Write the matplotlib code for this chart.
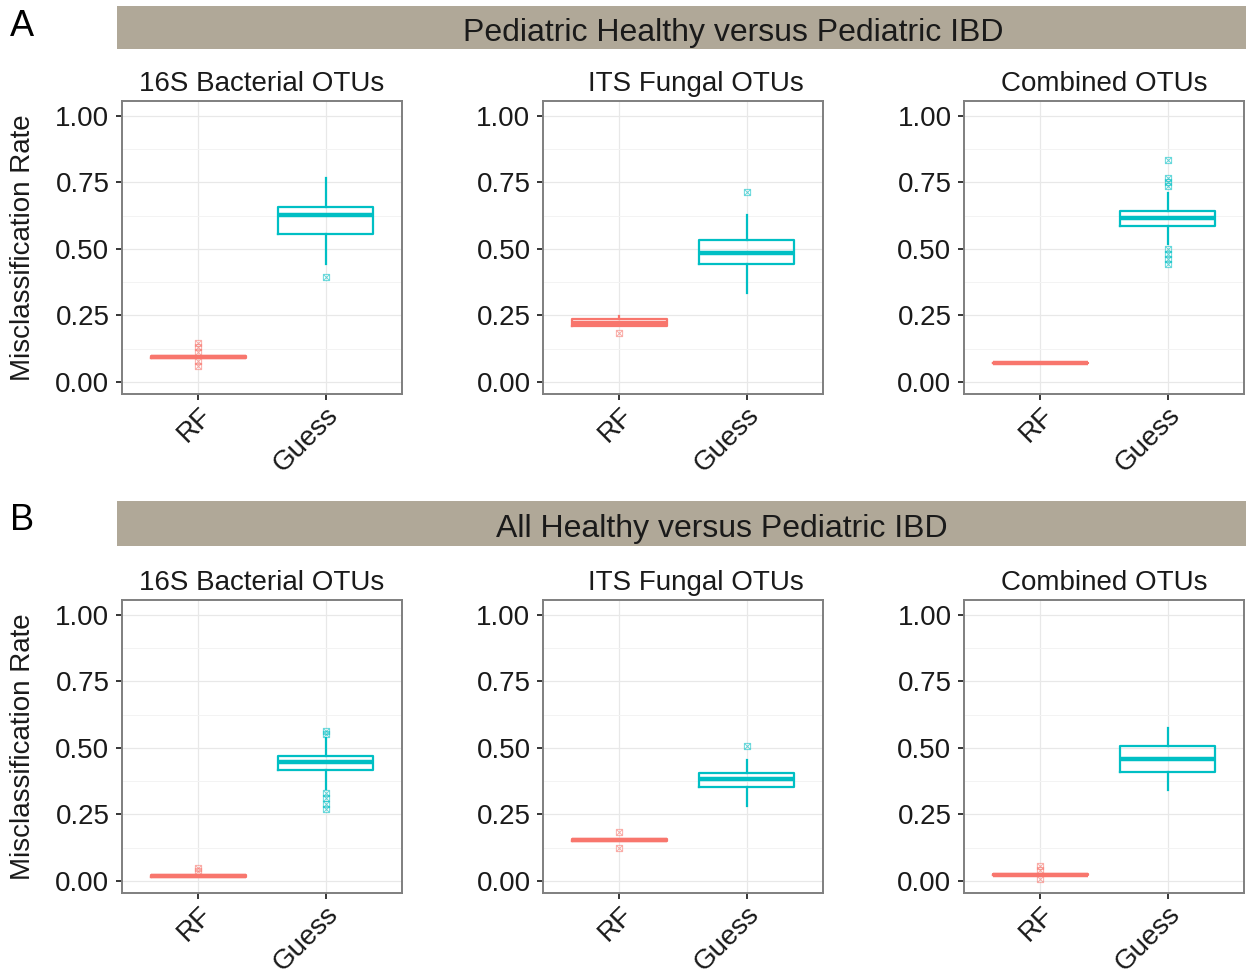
import matplotlib
matplotlib.use("Agg")
import matplotlib.pyplot as plt
from matplotlib.path import Path
from matplotlib.patches import Rectangle

plt.rcParams['font.family'] = ['Liberation Sans', 'DejaVu Sans']

# ---------------- data ----------------
methods = ["RF", "Guess"]
panel_titles = ["16S Bacterial OTUs", "ITS Fungal OTUs", "Combined OTUs"]
row_titles = ["Pediatric Healthy versus Pediatric IBD", "All Healthy versus Pediatric IBD"]
row_letters = ["A", "B"]
yticks = [0.00, 0.25, 0.50, 0.75, 1.00]
ytick_labels = ["0.00", "0.25", "0.50", "0.75", "1.00"]
ylabel = "Misclassification Rate"

# box stats: [whislo, q1, med, q3, whishi]
# Row A
A_16S_RF = [0.090, 0.090, 0.094, 0.097, 0.097]
A_16S_RF_out = [0.148, 0.130, 0.112, 0.078, 0.062]
A_16S_G = [0.442, 0.558, 0.627, 0.656, 0.765]
A_16S_G_out = [0.395]

A_ITS_RF = [0.210, 0.212, 0.222, 0.235, 0.247]
A_ITS_RF_out = [0.184]
A_ITS_G = [0.335, 0.445, 0.483, 0.533, 0.629]
A_ITS_G_out = [0.714]

A_COMB_RF = [0.071, 0.071, 0.071, 0.071, 0.071]
A_COMB_RF_out = []
A_COMB_G = [0.520, 0.588, 0.618, 0.642, 0.711]
A_COMB_G_out = [0.833, 0.768, 0.752, 0.738, 0.500, 0.480, 0.462, 0.445]

# Row B
B_16S_RF = [0.014, 0.014, 0.018, 0.022, 0.022]
B_16S_RF_out = [0.050, 0.038]
B_16S_G = [0.345, 0.418, 0.449, 0.468, 0.539]
B_16S_G_out = [0.565, 0.552, 0.332, 0.312, 0.290, 0.270]

B_ITS_RF = [0.152, 0.152, 0.155, 0.158, 0.158]
B_ITS_RF_out = [0.185, 0.125]
B_ITS_G = [0.283, 0.355, 0.383, 0.406, 0.453]
B_ITS_G_out = [0.506]

B_COMB_RF = [0.021, 0.021, 0.024, 0.027, 0.027]
B_COMB_RF_out = [0.055, 0.040, 0.008]
B_COMB_G = [0.343, 0.411, 0.460, 0.506, 0.576]
B_COMB_G_out = []

rows = [
    [(A_16S_RF, A_16S_RF_out, A_16S_G, A_16S_G_out),
     (A_ITS_RF, A_ITS_RF_out, A_ITS_G, A_ITS_G_out),
     (A_COMB_RF, A_COMB_RF_out, A_COMB_G, A_COMB_G_out)],
    [(B_16S_RF, B_16S_RF_out, B_16S_G, B_16S_G_out),
     (B_ITS_RF, B_ITS_RF_out, B_ITS_G, B_ITS_G_out),
     (B_COMB_RF, B_COMB_RF_out, B_COMB_G, B_COMB_G_out)],
]

colors = ["#F8766D", "#00BFC4"]
strip_color = "#B0A898"
frame_color = "#7F7F7F"

# square-with-x marker (ggplot shape 7)
verts = [(-1, -1), (1, -1), (1, 1), (-1, 1), (-1, -1),
         (-1, -1), (1, 1), (-1, 1), (1, -1)]
codes = [Path.MOVETO, Path.LINETO, Path.LINETO, Path.LINETO, Path.CLOSEPOLY,
         Path.MOVETO, Path.LINETO, Path.MOVETO, Path.LINETO]
sqx = Path(verts, codes)

W, H = 1246, 977
fig = plt.figure(figsize=(W / 100, H / 100), dpi=100)

ax_left = [122, 543, 964]
ax_w = 280
ax_top = [101, 600]
ax_h = 293
strip_y = [(6, 49), (501, 546)]
strip_text_x = [733, 722]
title_x = [0.5, 0.546, 0.5]


def mkstats(s, out, label):
    return dict(whislo=s[0], q1=s[1], med=s[2], q3=s[3], whishi=s[4],
                fliers=out, label=label)


for r in range(2):
    # strip
    y0, y1 = strip_y[r]
    fig.patches.append(Rectangle((117 / W, 1 - y1 / H), (W - 117) / W, (y1 - y0) / H,
                                 transform=fig.transFigure, facecolor=strip_color,
                                 edgecolor='none', zorder=0))
    fig.text(strip_text_x[r] / W, 1 - ((y0 + y1) / 2 + 5) / H, row_titles[r],
             ha='center', va='center', fontsize=23, color='#1a1a1a')
    fig.text(22 / W, 1 - (y0 + 20) / H, row_letters[r], ha='center', va='center',
             fontsize=26, color='black')

    for c in range(3):
        rf, rf_out, g, g_out = rows[r][c]
        ax = fig.add_axes([ax_left[c] / W, 1 - (ax_top[r] + ax_h) / H, ax_w / W, ax_h / H])
        ax.set_xlim(0.4, 2.6)
        ax.set_ylim(-0.045, 1.056)
        ax.set_axisbelow(True)
        ax.set_yticks(yticks)
        ax.set_yticklabels(ytick_labels)
        ax.set_yticks([0.125, 0.375, 0.625, 0.875], minor=True)
        ax.grid(True, which='major', color='#E8E8E8', lw=0.9)
        ax.grid(True, which='minor', axis='y', color='#F3F3F3', lw=0.7)
        for s in ax.spines.values():
            s.set_color(frame_color)
            s.set_linewidth(1.4)
        ax.tick_params(axis='both', which='major', length=4, width=1.1, color='black',
                       labelsize=20, labelcolor='#1a1a1a', pad=2)
        ax.tick_params(axis='y', which='major', pad=5)
        ax.tick_params(axis='both', which='minor', length=0)

        for i, (st, out) in enumerate([(rf, rf_out), (g, g_out)]):
            col = colors[i]
            ax.bxp([mkstats(st, out, methods[i])], positions=[i + 1], widths=0.75,
                   showfliers=True, manage_ticks=False,
                   boxprops=dict(color=col, lw=1.6),
                   whiskerprops=dict(color=col, lw=1.6),
                   capprops=dict(lw=0),
                   medianprops=dict(color=col, lw=3.2, solid_capstyle='butt'),
                   flierprops=dict(marker=sqx, markersize=4.5, markerfacecolor='none',
                                   markeredgecolor=col, markeredgewidth=0.7,
                                   alpha=0.6, linestyle='none'))
        ax.set_xticks([1, 2])
        ax.set_xticklabels(methods, rotation=45, ha='right', rotation_mode='anchor')
        t = ax.set_title(panel_titles[c], fontsize=20, pad=7, color='#1a1a1a')
        t.set_x(title_x[c])
        if c == 0:
            ax.set_ylabel(ylabel, fontsize=20, color='#1a1a1a', va='center')
            ax.yaxis.set_label_coords((23 - ax_left[c]) / ax_w, 0.5)

fig.savefig("out.png", dpi=100)
